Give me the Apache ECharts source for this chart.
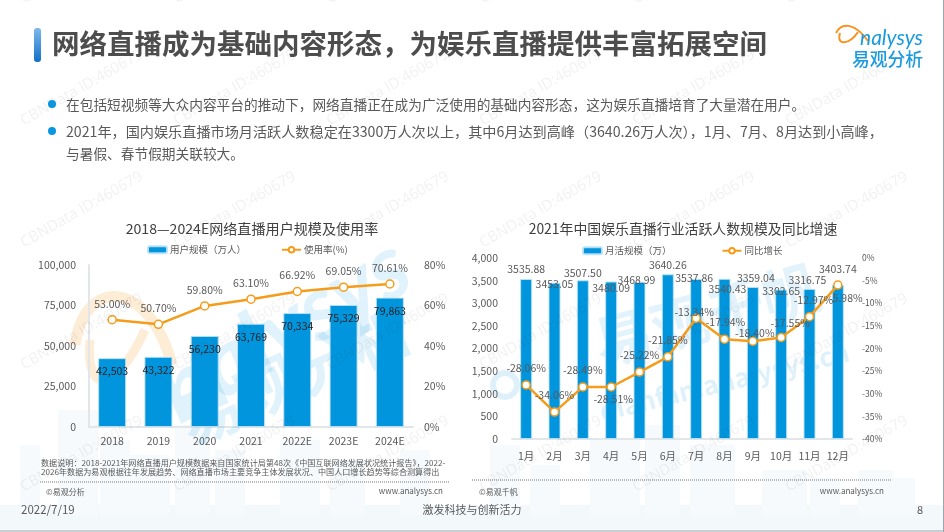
<!DOCTYPE html>
<html>
<head>
<meta charset="utf-8">
<style>
html, body { margin: 0; padding: 0; background: #fff; }
#main { width: 944px; height: 532px; }
</style>
</head>
<body>
<div id="main"></div>
<script src="https://cdn.jsdelivr.net/npm/echarts@6/dist/echarts.min.js"></script>
<script>
const years = ['2018', '2019', '2020', '2021', '2022E', '2023E', '2024E'];
const userScale = [42503, 43322, 56230, 63769, 70334, 75329, 79863];
const useRate = [53.00, 50.70, 59.80, 63.10, 66.92, 69.05, 70.61];
const months = ['1月', '2月', '3月', '4月', '5月', '6月', '7月', '8月', '9月', '10月', '11月', '12月'];
const monthActive = [3535.88, 3453.05, 3507.50, 3480.09, 3468.99, 3640.26, 3537.86, 3540.43, 3359.04, 3302.65, 3316.75, 3403.74];
const yoyGrowth = [-28.06, -34.06, -28.49, -28.51, -25.22, -21.85, -13.34, -17.94, -18.40, -17.55, -12.97, -5.98];

// 标签手动错开，和原图一致
const activeLabelOffset = [[0, 0], [0, 12], [0, 3], [0, 17], [-3, 8], [0, 1], [-2, 9], [3, 20], [3, 1], [0, 12], [-2, 1], [0, -6]];
const growthLabelOffset = [[0, -2], [0, -2], [0, -2], [2, 27], [0, -2], [0, -2], [-2, 9], [1, -2], [2, 7], [9, 1], [4, -2], [8, 28]];

const FONT = '"Noto Sans CJK SC", "Noto Sans", sans-serif';
const BLUE = '#0095dd';
const ORANGE = '#f59c1a';
const GREY = '#595959';

const chart = echarts.init(document.getElementById('main'));

function txt(x, y, text, size, color, extra) {
    return Object.assign({
        type: 'text', x: x, y: y, z: 1,
        style: Object.assign({
            text: text, fontSize: size, fill: color, fontFamily: FONT,
            textVerticalAlign: 'middle'
        }, extra || {})
    });
}

// 背景城市剪影
const buildings = [
    [20, 445, 20, 70], [58, 410, 40, 105], [100, 440, 30, 75], [130, 455, 40, 60], [175, 425, 35, 90],
    [215, 450, 30, 65], [280, 440, 40, 75], [330, 460, 35, 55], [400, 450, 30, 65], [490, 445, 30, 70],
    [530, 465, 30, 50], [590, 440, 50, 75], [645, 425, 35, 90], [690, 445, 45, 70], [762, 470, 45, 45],
    [810, 478, 30, 37], [858, 470, 35, 45], [885, 478, 30, 37]
];
const bgGraphics = [
    { type: 'rect', z: 0, shape: { x: 0, y: 505, width: 944, height: 27 }, style: { fill: '#f3f8fb' } }
];
buildings.forEach(b => {
    bgGraphics.push({ type: 'rect', z: 0, shape: { x: b[0], y: b[1], width: b[2], height: b[3] }, style: { fill: '#f6fafc' } });
});

// 大水印
const bigMarks = [
    { type: 'bezierCurve', z: 0, shape: { x1: 75, y1: 345, cpx1: 85, cpy1: 275, cpx2: 150, cpy2: 280, x2: 172, y2: 365 },
        style: { stroke: 'rgba(248,170,70,0.22)', lineWidth: 11, fill: null } },
    { type: 'bezierCurve', z: 0, shape: { x1: 90, y1: 340, cpx1: 85, cpy1: 395, cpx2: 115, cpy2: 395, x2: 145, y2: 330 },
        style: { stroke: 'rgba(248,170,70,0.22)', lineWidth: 9, fill: null } },
    txt(165, 400, 'nalysys', 90, 'rgba(0,149,221,0.12)', { fontStyle: 'italic', fontWeight: 'bold', fontFamily: 'Lato' }),
    txt(182, 425, '易观分析', 62, 'rgba(0,149,221,0.12)', { fontWeight: 'bold' }),
    txt(595, 345, '易观千帆', 58, 'rgba(0,149,221,0.11)', { fontWeight: 'bold' }),
    txt(600, 412, 'qianfan.analysys.cn', 26, 'rgba(0,149,221,0.13)', { fontWeight: 'bold' }),
    { type: 'circle', z: 0, shape: { cx: 505, cy: 385, r: 12 }, style: { stroke: 'rgba(0,149,221,0.13)', lineWidth: 6, fill: null } }
];
bigMarks[2].rotation = 0.53;
bigMarks[3].rotation = 0.42;
bigMarks[4].rotation = 0.26;
bigMarks[5].rotation = 0.24;

// CBNData 水印，盖在图上面
const watermarks = [];
for (let row = -1; row < 4; row++) {
    for (let col = 0; col < 6; col++) {
        const w = txt(22 + 153 * col, 122 + 122 * row, 'CBNData ID:460679', 15, 'rgba(60,60,60,0.07)', { fontFamily: 'Open Sans' });
        w.z = 50;
        w.rotation = 0.52;
        watermarks.push(w);
    }
}

const page = [
    // 标题
    { type: 'rect', z: 1, shape: { x: 34, y: 28, width: 7, height: 34, r: 3 },
        style: { fill: new echarts.graphic.LinearGradient(0, 0, 0, 1, [{ offset: 0, color: '#7fb8ee' }, { offset: 1, color: '#1170c8' }]) } },
    txt(52, 44, '网络直播成为基础内容形态，为娱乐直播提供丰富拓展空间', 27.5, '#4d4d4d', { fontWeight: 'bold' }),
    // logo
    { type: 'bezierCurve', z: 1, shape: { x1: 836, y1: 33, cpx1: 842, cpy1: 21, cpx2: 856, cpy2: 24, x2: 868, y2: 41 }, style: { stroke: '#f7931e', lineWidth: 2, fill: null } },
    { type: 'bezierCurve', z: 1, shape: { x1: 840, y1: 33, cpx1: 836, cpy1: 47, cpx2: 850, cpy2: 44, x2: 858, y2: 32 }, style: { stroke: '#f7931e', lineWidth: 2, fill: null } },
    txt(860, 38, 'nalysys', 21, '#1a9be0', { fontStyle: 'italic', fontFamily: 'Lato' }),
    txt(852, 59, '易观分析', 17.8, '#1a9be0', { fontWeight: 500 }),
    // 正文
    { type: 'circle', z: 1, shape: { cx: 52, cy: 104, r: 4 }, style: { fill: '#0a96e0' } },
    { type: 'circle', z: 1, shape: { cx: 52, cy: 131, r: 4 }, style: { fill: '#0a96e0' } },
    txt(66, 105, '在包括短视频等大众内容平台的推动下，网络直播正在成为广泛使用的基础内容形态，这为娱乐直播培育了大量潜在用户。', 13.7, GREY),
    txt(66, 132, '2021年，国内娱乐直播市场月活跃人数稳定在3300万人次以上，其中6月达到高峰（3640.26万人次），1月、7月、8月达到小高峰，', 14.15, GREY),
    txt(66, 154, '与暑假、春节假期关联较大。', 13.7, GREY),
    // 脚注
    txt(41, 463, '数据说明：2018-2021年网络直播用户规模数据来自国家统计局第48次《中国互联网络发展状况统计报告》，2022-', 8.1, GREY),
    txt(41, 472, '2026年数据为易观根据往年发展趋势、网络直播市场主要竞争主体发展状况、中国人口增长趋势等综合测算得出', 8.1, GREY),
    { type: 'line', z: 1, shape: { x1: 40, y1: 482, x2: 449, y2: 482 }, style: { stroke: '#777', lineWidth: 1, lineDash: [1, 1] } },
    { type: 'line', z: 1, shape: { x1: 472, y1: 480, x2: 891, y2: 480 }, style: { stroke: '#777', lineWidth: 1, lineDash: [1, 1] } },
    txt(46, 492, '©易观分析', 8, GREY),
    txt(443, 491, 'www.analysys.cn', 8, GREY, { textAlign: 'right' }),
    txt(479, 492, '©易观千帆', 8, GREY),
    txt(884, 491, 'www.analysys.cn', 8, GREY, { textAlign: 'right' }),
    // 页脚
    txt(21, 510, '2022/7/19', 11.5, GREY),
    txt(472, 510, '激发科技与创新活力', 11, GREY, { textAlign: 'center' }),
    txt(917, 510, '8', 11, GREY),
    { type: 'line', z: 1, shape: { x1: 0, y1: 531, x2: 944, y2: 531 }, style: { stroke: '#9aa5ad', lineWidth: 1 } },
    { type: 'line', z: 1, shape: { x1: 943.5, y1: 0, x2: 943.5, y2: 532 }, style: { stroke: '#9aa5ad', lineWidth: 1 } }
];

const axisLabel = { color: GREY, fontFamily: FONT };
const lightLine = { show: true, lineStyle: { color: '#e3e6e8', width: 2 } };
const barStyle = { color: BLUE, borderColor: 'rgba(190,226,245,0.9)', borderWidth: 1 };
const thousands = v => v.toLocaleString('en-US');

chart.setOption({
    animation: false,
    textStyle: { fontFamily: FONT },
    title: [
        { text: '2018—2024E网络直播用户规模及使用率', left: 247, top: 217, textAlign: 'center',
            textStyle: { fontSize: 14.1, fontWeight: 'normal', color: '#404040', fontFamily: FONT } },
        { text: '2021年中国娱乐直播行业活跃人数规模及同比增速', left: 678, top: 217, textAlign: 'center',
            textStyle: { fontSize: 13.9, fontWeight: 'normal', color: '#404040', fontFamily: FONT } }
    ],
    legend: [
        { left: 142, top: 240, itemWidth: 19, itemHeight: 7, itemGap: 35, data: ['用户规模（万人）', '使用率(%)'],
            textStyle: { fontSize: 9.5, color: GREY, fontFamily: FONT, padding: [0, 0, 0, -2] } },
        { left: 577, top: 241, itemWidth: 19, itemHeight: 7, itemGap: 50, data: ['月活规模（万）', '同比增长'],
            textStyle: { fontSize: 9.5, color: GREY, fontFamily: FONT, padding: [0, 0, 0, -2] } }
    ],
    grid: [
        { left: 89, right: 531, top: 265, bottom: 105 },
        { left: 512, right: 92, top: 258, bottom: 93 }
    ],
    xAxis: [
        { type: 'category', gridIndex: 0, data: years, axisTick: { show: false }, axisLine: lightLine,
            axisLabel: Object.assign({ fontSize: 10.5, margin: 9, interval: 0 }, axisLabel) },
        { type: 'category', gridIndex: 1, data: months, axisTick: { show: false }, axisLine: lightLine,
            axisLabel: Object.assign({ fontSize: 10.5, margin: 12, interval: 0 }, axisLabel) }
    ],
    yAxis: [
        { type: 'value', gridIndex: 0, min: 0, max: 100000, interval: 25000, splitLine: { show: false },
            axisLine: lightLine, axisTick: { show: false },
            axisLabel: Object.assign({ fontSize: 10.5, margin: 13, formatter: thousands }, axisLabel) },
        { type: 'value', gridIndex: 0, position: 'right', min: 0, max: 80, interval: 20, splitLine: { show: false },
            axisLine: { show: false }, axisTick: { show: false },
            axisLabel: Object.assign({ fontSize: 10.5, margin: 11, formatter: '{value}%' }, axisLabel) },
        { type: 'value', gridIndex: 1, min: 0, max: 4000, interval: 500, splitLine: { show: false },
            axisLine: { show: false }, axisTick: { show: false },
            axisLabel: Object.assign({ fontSize: 10.5, margin: 14, formatter: thousands }, axisLabel) },
        { type: 'value', gridIndex: 1, position: 'right', min: -40, max: 0, interval: 5, splitLine: { show: false },
            axisLine: { show: false }, axisTick: { show: false },
            axisLabel: Object.assign({ fontSize: 8.5, margin: 10, formatter: '{value}%' }, axisLabel) }
    ],
    series: [
        {
            name: '用户规模（万人）', type: 'bar', xAxisIndex: 0, yAxisIndex: 0, barWidth: 28,
            itemStyle: barStyle,
            label: { show: true, position: 'insideTop', distance: 8, fontSize: 10.5, color: '#222',
                formatter: p => thousands(p.value) },
            data: userScale
        },
        {
            name: '使用率(%)', type: 'line', xAxisIndex: 0, yAxisIndex: 1, symbol: 'circle', symbolSize: 8,
            lineStyle: { color: ORANGE, width: 2.5 },
            itemStyle: { color: '#fff', borderColor: ORANGE, borderWidth: 1.5 },
            label: { show: true, position: 'top', distance: 6, fontSize: 10.5, color: GREY,
                formatter: p => p.value.toFixed(2) + '%' },
            data: useRate
        },
        {
            name: '月活规模（万）', type: 'bar', xAxisIndex: 1, yAxisIndex: 2, barWidth: 12,
            itemStyle: barStyle,
            label: { show: true, position: 'top', fontSize: 10.5, color: GREY,
                formatter: p => p.value.toFixed(2) },
            data: monthActive.map((v, i) => ({ value: v, label: { offset: activeLabelOffset[i] } }))
        },
        {
            name: '同比增长', type: 'line', xAxisIndex: 1, yAxisIndex: 3, symbol: 'circle', symbolSize: 8,
            lineStyle: { color: ORANGE, width: 2.5 },
            itemStyle: { color: '#fff', borderColor: ORANGE, borderWidth: 1.5 },
            label: { show: true, position: 'top', fontSize: 10.5, color: GREY,
                formatter: p => p.value.toFixed(2) + '%' },
            data: yoyGrowth.map((v, i) => ({ value: v, label: { offset: growthLabelOffset[i] } }))
        }
    ],
    graphic: { elements: bgGraphics.concat(bigMarks, page, watermarks) }
});
</script>
</body>
</html>
